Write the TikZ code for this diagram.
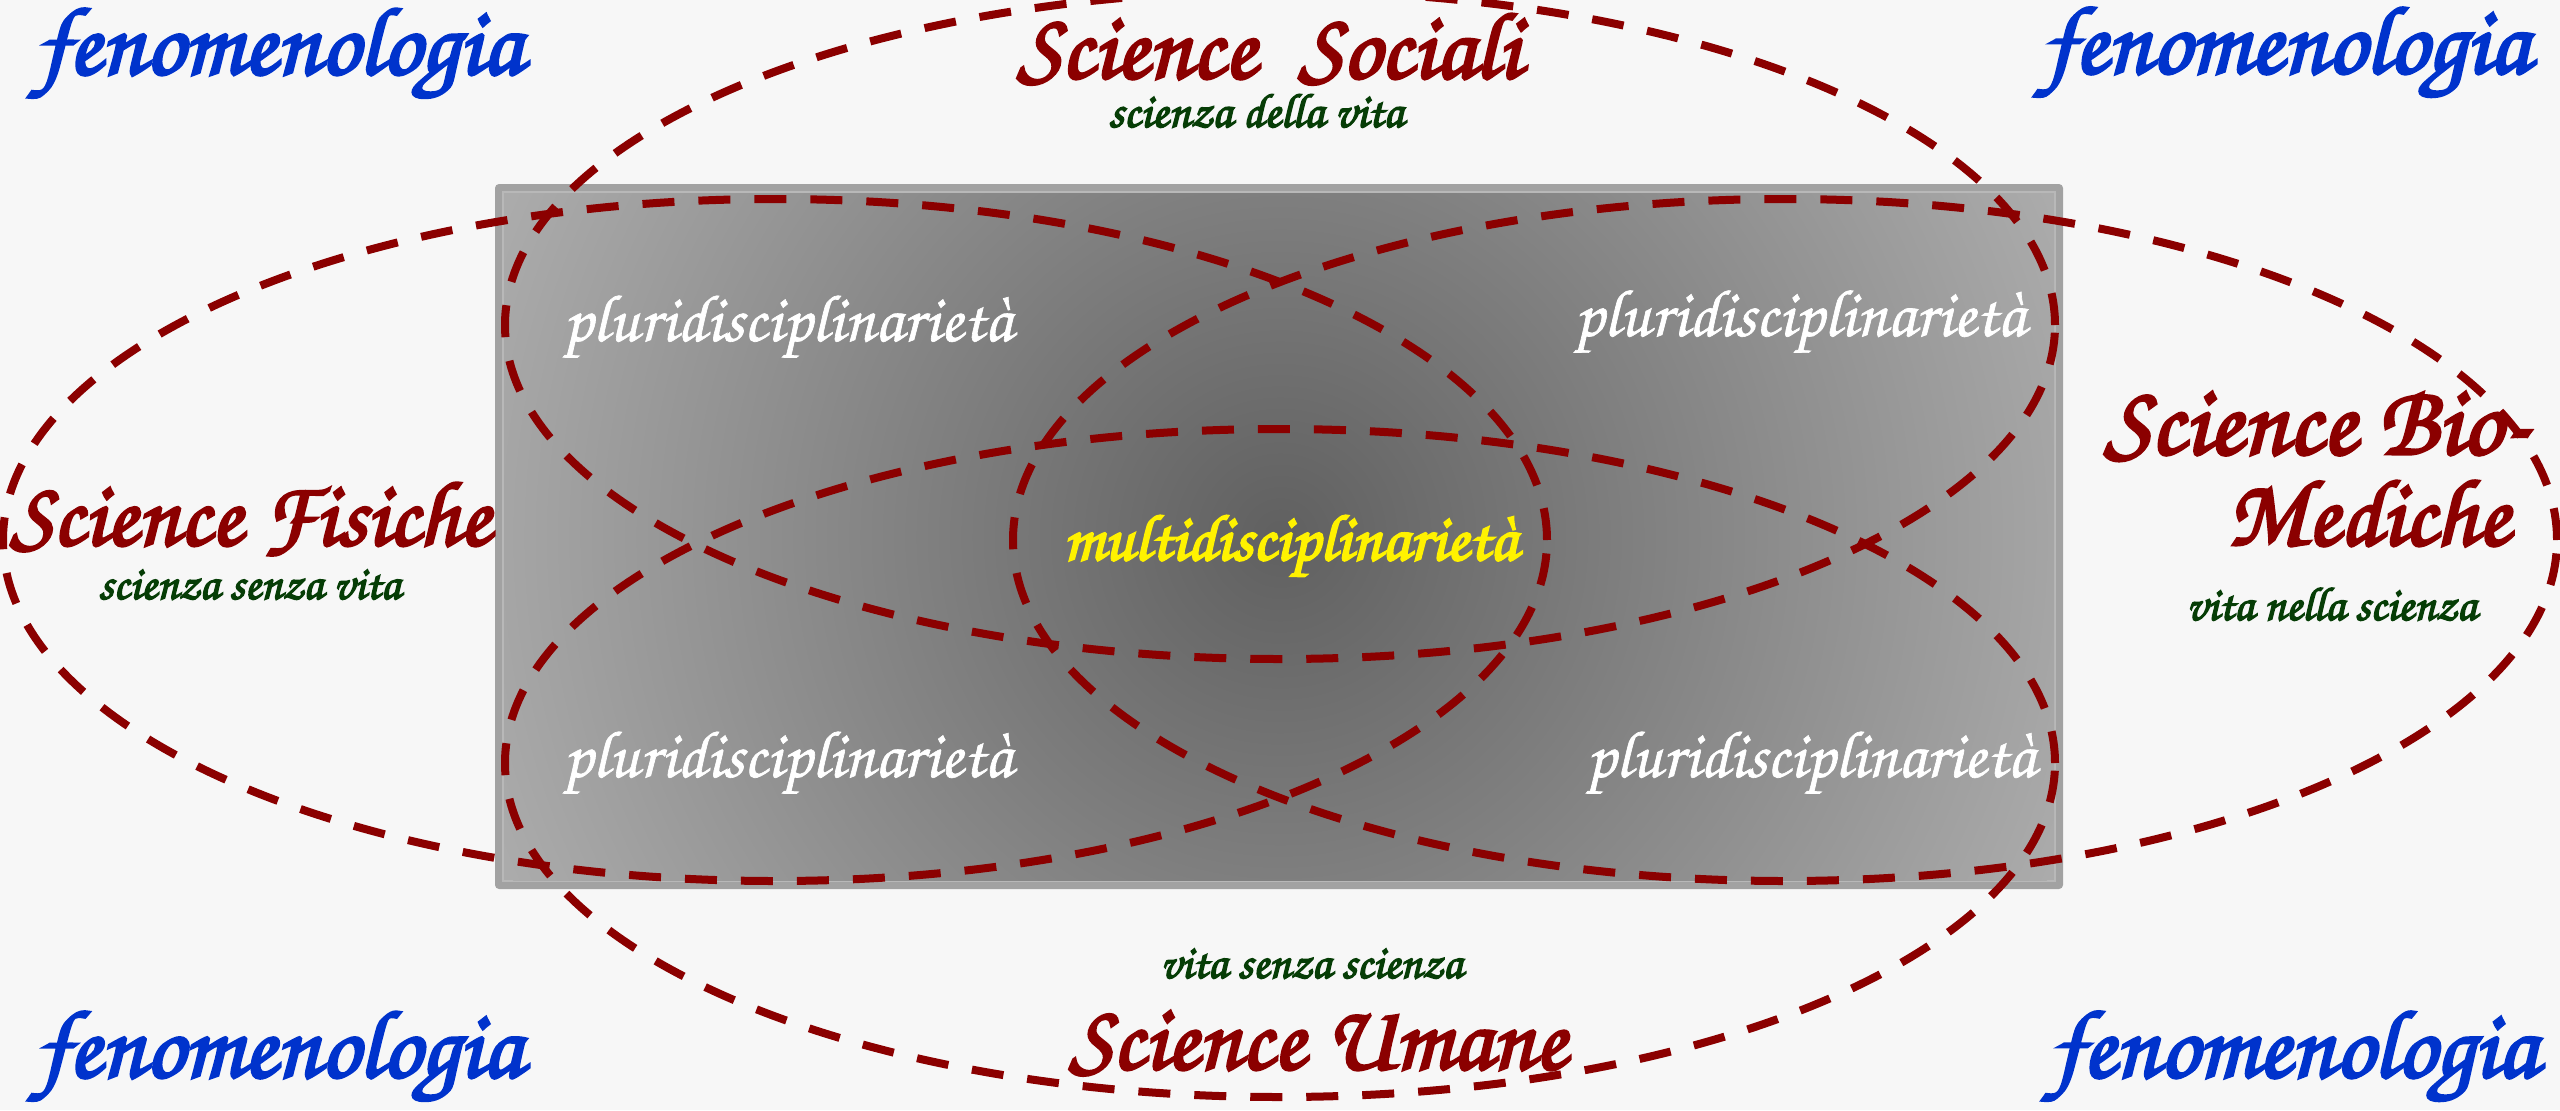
\documentclass[tikz,border=0pt]{standalone}
\usepackage{fontspec}
\newfontfamily\chorus{TeX Gyre Chorus}[FakeBold=1]
\newfontfamily\chorusB{TeX Gyre Chorus}[FakeBold=3]
\definecolor{bg}{HTML}{F7F7F7}
\definecolor{dred}{HTML}{8B0000}
\definecolor{fblue}{HTML}{0033CC}
\definecolor{dgreen}{HTML}{063D06}
\definecolor{rectin}{HTML}{606060}
\definecolor{rectout}{HTML}{ABABAB}
\definecolor{rectborder}{HTML}{A2A2A2}
\definecolor{rectline}{HTML}{B8B8B8}
\newcommand\fitw[2]{\resizebox{#1}{!}{#2}}
\tikzset{
  ellstyle/.style={draw=dred, line width=4pt, dash pattern=on 16pt off 12pt},
  txtbase/.style={inner sep=0pt, anchor=base west},
  fenstyle/.style={txtbase, text=fblue, font=\chorusB\fontsize{40}{48}\selectfont},
  titstyle/.style={txtbase, text=dred, font=\chorusB\fontsize{40}{48}\selectfont},
  substyle/.style={txtbase, text=dgreen, font=\chorusB\fontsize{20}{24}\selectfont},
  plustyle/.style={txtbase, text=white, font=\chorus\fontsize{30}{36}\selectfont},
  multistyle/.style={txtbase, text=yellow, font=\chorusB\fontsize{30}{36}\selectfont},
}
\begin{document}
\begin{tikzpicture}[x=0.5pt,y=-0.5pt]
\useasboundingbox (0,0) rectangle (2560,1110);
\fill[bg] (0,0) rectangle (2560,1110);
% central panel
\fill[rectborder, rounded corners=2pt] (495,184) rectangle (2063,889);
\fill[rectline] (502,191) rectangle (2056,882);
\begin{scope}
  \clip (504,193) rectangle (2054,880);
  \fill[rectout] (504,193) rectangle (2054,880);
  \shade[inner color=rectin, outer color=rectout] (1280,537) circle [radius=420pt];
\end{scope}
% ellipses
\draw[ellstyle] (1280,325) ellipse [x radius=387.5pt, y radius=167pt];
\draw[ellstyle] (1280,763) ellipse [x radius=387.5pt, y radius=167pt];
\draw[ellstyle] (775,540) ellipse [x radius=386pt, y radius=170.5pt];
\draw[ellstyle] (1785,540) ellipse [x radius=386pt, y radius=170.5pt];
% corner labels
\node[fenstyle] (fenTL) at (37,74) {\fitw{242.5pt}{fenomenologia}};
\node[fenstyle] (fenTR) at (2043,73) {\fitw{243pt}{fenomenologia}};
\node[fenstyle] (fenBL) at (37,1077) {\fitw{242.5pt}{fenomenologia}};
\node[fenstyle] (fenBR) at (2051,1077) {\fitw{243pt}{fenomenologia}};
% titles
\node[titstyle] (soc) at (1017,78) {\fitw{251.5pt}{Science\hspace{0.45em}Sociali}};
\node[substyle] (socsub) at (1108,127) {\fitw{147.5pt}{scienza della vita}};
\node[titstyle] (fis) at (10,545) {\fitw{240pt}{Science Fisiche}};
\node[substyle] (fissub) at (98,599) {\fitw{151pt}{scienza senza vita}};
\node[titstyle] (bio) at (2104,454) {\fitw{212.5pt}{Science Bio-}};
\node[titstyle] (med) at (2227,545) {\fitw{141pt}{Mediche}};
\node[substyle] (biosub) at (2186,620) {\fitw{145pt}{vita nella scienza}};
\node[substyle] (umsub) at (1160,978) {\fitw{151pt}{vita senza scienza}};
\node[titstyle] (um) at (1069,1069) {\fitw{248.5pt}{Science Umane}};
% inner labels
\node[plustyle] (pTL) at (563,341) {\fitw{224.5pt}{pluridisciplinarietà}};
\node[plustyle] (pTR) at (1574,336) {\fitw{225.5pt}{pluridisciplinarietà}};
\node[plustyle] (pBL) at (563,777) {\fitw{224.5pt}{pluridisciplinarietà}};
\node[plustyle] (pBR) at (1586,777) {\fitw{224.5pt}{pluridisciplinarietà}};
\node[multistyle] (multi) at (1063,560) {\fitw{227pt}{multidisciplinarietà}};
\end{tikzpicture}
\end{document}
